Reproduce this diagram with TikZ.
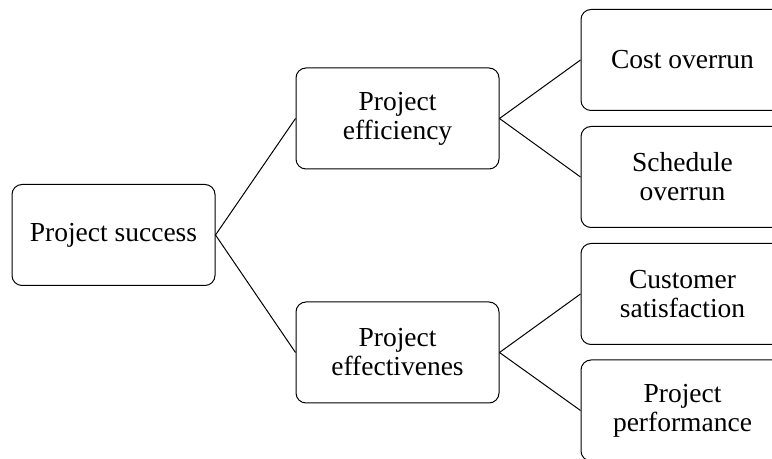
\documentclass[tikz,border=0pt]{standalone}
\usepackage{fontspec}
\setmainfont{Liberation Serif}
\usepackage{xcolor}
\usepackage{tikz}
\tikzset{
    box/.style={
        draw, rounded corners=5pt, line width=0.5pt,
        minimum width=101.5pt, minimum height=50.5pt,
        align=center, inner sep=2pt,
        font=\fontsize{13.75pt}{14.5pt}\selectfont
    },
    link/.style={line width=0.5pt}
}
\begin{document}
\begin{tikzpicture}[x=0.5pt, y=-0.5pt]
\useasboundingbox (0,0) rectangle (772,459);
\clip (0,0) rectangle (772,459);

\node[box] (success) at (113.5,235) {Project success};
\node[box] (efficiency) at (397.5,118.5) {Project\\efficiency};
\node[box] (effective) at (397.5,352.5) {Project\\effectivenes};
\node[box] (cost) at (682.5,60) {Cost overrun};
\node[box] (schedule) at (682.5,177) {Schedule\\overrun};
\node[box] (customer) at (682.5,294) {Customer\\satisfaction};
\node[box] (performance) at (682.5,410.5) {Project\\performance};

\draw[link] (success.east) -- (efficiency.west);
\draw[link] (success.east) -- (effective.west);
\draw[link] (efficiency.east) -- (cost.west);
\draw[link] (efficiency.east) -- (schedule.west);
\draw[link] (effective.east) -- (customer.west);
\draw[link] (effective.east) -- (performance.west);
\end{tikzpicture}
\end{document}
